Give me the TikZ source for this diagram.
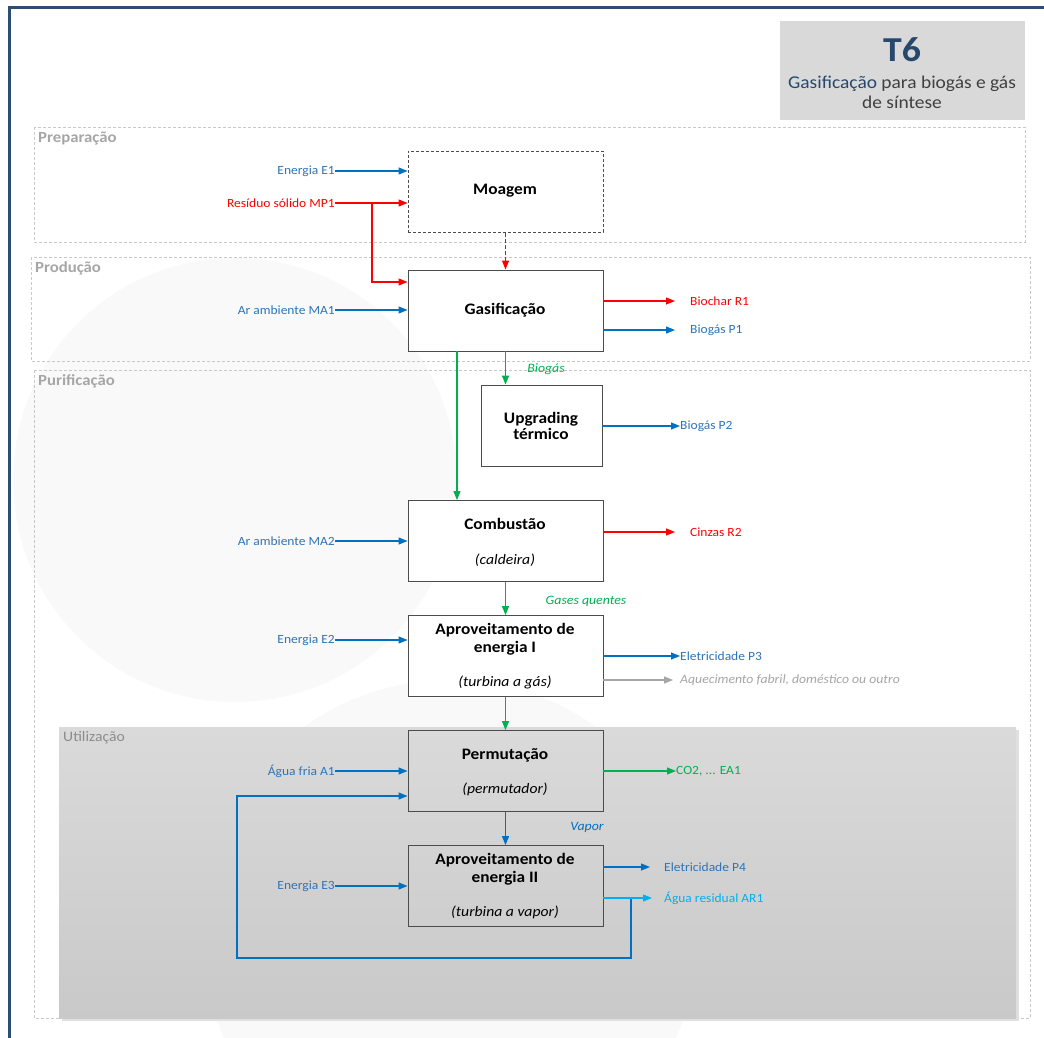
\documentclass[tikz,border=0pt]{standalone}
\usepackage{fontspec}
\setmainfont[FakeStretch=1.08]{Carlito}
\usetikzlibrary{arrows.meta}
\definecolor{frameblue}{RGB}{44,78,112}
\definecolor{tblue}{RGB}{38,72,108}
\definecolor{ablue}{RGB}{0,112,192}
\definecolor{lblue}{RGB}{46,117,182}
\definecolor{cred}{RGB}{255,0,0}
\definecolor{cgreen}{RGB}{0,176,80}
\definecolor{cgray}{RGB}{166,166,166}
\definecolor{cyanb}{RGB}{0,176,240}
\definecolor{secgray}{RGB}{200,200,200}
\definecolor{titlegray}{RGB}{217,217,217}
\definecolor{txtgray}{RGB}{64,64,64}
\begin{document}
\begin{tikzpicture}[x=1pt,y=-1pt,
 procbox/.style={draw=black!70, line width=0.9pt, fill=white, minimum width=195pt, minimum height=81pt, inner sep=0pt},
 sect/.style={draw=secgray, dash pattern=on 3pt off 2pt, line width=0.8pt},
 seclabel/.style={font=\bfseries\fontsize{15.5}{17}\selectfont, text=cgray, anchor=west, inner sep=0pt},
 lab/.style={font=\fontsize{12.5}{14}\selectfont, inner sep=0pt},
 inlab/.style={lab, anchor=east},
 outlab/.style={lab, anchor=west},
 ttl/.style={font=\bfseries\fontsize{16}{18}\selectfont, align=center, inner sep=0pt},
 subt/.style={font=\itshape\fontsize{14.5}{16}\selectfont, inner sep=0pt},
 flowlab/.style={font=\itshape\fontsize{12.8}{14}\selectfont, inner sep=0pt},
 flow/.style={line width=1.1pt, -{Triangle[length=9pt,width=7pt]}},
]
\useasboundingbox (0,0) rectangle (1044,1038);
\fill[white] (0,0) rectangle (1044,1038);
% watermark circles
\fill[black!2.5] (235,480) circle (222);
\fill[black!2.5] (450,930) circle (250);
\fill[white] (20,20) rectangle (760,125);
% frame
\draw[frameblue, line width=3pt] (9.5,1038) -- (9.5,7.5) -- (1044,7.5);
% title
\node[fill=titlegray, minimum width=245pt, minimum height=99pt, inner sep=0pt] (tbox) at (902.5,70.5) {};
\node[font=\bfseries\fontsize{35}{36}\selectfont, text=tblue, inner sep=0pt] (tnum) at (902,50) {T6};
\node[font=\fontsize{18}{20}\selectfont, align=center, text=txtgray, inner sep=0pt] (tsub) at (902,92) {\textcolor{tblue}{Gasificação} para biogás e gás\\de síntese};
% sections
\draw[sect] (34,127) rectangle (1025,242);
\draw[sect] (31,257) rectangle (1030,361);
\draw[sect] (34,370) rectangle (1030,1018);
\node[seclabel] (sprep) at (38,139) {Preparação};
\node[seclabel] (sprod) at (35,268) {Produção};
\node[seclabel] (spur) at (38,381) {Purificação};
% utilization
\fill[black!12] (62,730) rectangle (1019,1021);
\shade[top color={rgb,255:red,218;green,218;blue,218}, bottom color={rgb,255:red,201;green,201;blue,201}] (59,727) rectangle (1016,1018);
\node[font=\fontsize{14.5}{16}\selectfont, text=black!45, anchor=west, inner sep=0pt] (sutil) at (63,738) {Utilização};
% boxes
\node[procbox, dash pattern=on 3pt off 2pt] (moagem) at (505.5,191.5) {};
\node[procbox] (gasif) at (505.5,310.5) {};
\node[procbox, minimum width=121pt] (upg) at (541.5,425.5) {};
\node[procbox] (comb) at (505.5,541) {};
\node[procbox] (ap1) at (505.5,656) {};
\node[procbox, fill=none] (perm) at (505.5,771) {};
\node[procbox, fill=none] (ap2) at (505.5,886) {};
% box texts
\node[ttl] (tmoag) at (505,191) {Moagem};
\node[ttl] (tgas) at (505,310) {Gasificação};
\node[ttl, font=\bfseries\fontsize{16}{16}\selectfont] (tupg) at (541,426) {Upgrading\\térmico};
\node[ttl] (tcomb) at (505,524) {Combustão};
\node[subt] (scomb) at (505,560) {(caldeira)};
\node[ttl] (tap1) at (505,639) {Aproveitamento de\\energia I};
\node[subt] (sap1) at (505,682) {(turbina a gás)};
\node[ttl] (tperm) at (505,755) {Permutação};
\node[subt] (sperm) at (505,789) {(permutador)};
\node[ttl] (tap2) at (505,869) {Aproveitamento de\\energia II};
\node[subt] (sap2) at (505,912) {(turbina a vapor)};
% inputs
\node[inlab, text=lblue] (e1) at (335,171) {Energia E1};
\draw[flow, ablue] (e1.east) -- (e1.east -| moagem.west);
\node[inlab, text=cred] (mp1) at (335,203) {Resíduo sólido MP1};
\draw[flow, cred] (mp1.east) -- (mp1.east -| moagem.west);
\coordinate (mpb) at (372,203);
\draw[flow, cred] (mpb) |- ([yshift=28.5pt]gasif.west);
\draw[cred, line width=1.8pt, dash pattern=on 4pt off 2pt] ([yshift=-1pt]moagem.south) -- ([yshift=8pt]gasif.north);
\draw[flow, cred] ([yshift=9pt]gasif.north) -- (gasif.north);
\node[inlab, text=lblue] (ma1) at (335,310) {Ar ambiente MA1};
\draw[flow, ablue] (ma1.east) -- (ma1.east -| gasif.west);
% gasification outputs
\node[outlab, text=cred] (r1) at (690,301) {Biochar R1};
\draw[flow, cred] (gasif.east |- r1.west) -- ([xshift=-15pt]r1.west);
\node[outlab, text=lblue] (p1) at (690,330) {Biogás P1};
\draw[flow, ablue] (gasif.east |- p1.west) -- ([xshift=-15pt]p1.west);
\draw[flow, cgreen] ([xshift=-48.5pt]gasif.south) -- ([xshift=-48.5pt]comb.north);
\draw[flow, cgreen] (gasif.south) -- (gasif.south |- upg.north);
\node[flowlab, text=cgreen] (lbiog) at (546,369) {Biogás};
\node[outlab, text=lblue] (p2) at (680,426) {Biogás P2};
\draw[flow, ablue] (upg.east |- p2.west) -- (p2.west);
% combustion
\node[inlab, text=lblue] (ma2) at (335,541) {Ar ambiente MA2};
\draw[flow, ablue] (ma2.east) -- (ma2.east -| comb.west);
\node[outlab, text=cred] (r2) at (690,532) {Cinzas R2};
\draw[flow, cred] (comb.east |- r2.west) -- ([xshift=-15pt]r2.west);
\draw[flow, cgreen] (comb.south) -- (ap1.north);
\node[flowlab, text=cgreen] (lgas) at (586,601) {Gases quentes};
% energy I
\node[inlab, text=lblue] (e2) at (335,640) {Energia E2};
\draw[flow, ablue] (e2.east) -- (e2.east -| ap1.west);
\node[outlab, text=lblue] (p3) at (680,656) {Eletricidade P3};
\draw[flow, ablue] (ap1.east |- p3.west) -- (p3.west);
\node[outlab, text=cgray, font=\itshape\fontsize{12.7}{14}\selectfont] (aq) at (680,680) {Aquecimento fabril, doméstico ou outro};
\draw[flow, cgray] (ap1.east |- aq.west) -- ([xshift=-7pt]aq.west);
\draw[flow, cgreen] (ap1.south) -- (perm.north);
% permutation
\node[inlab, text=lblue] (a1) at (335,771) {Água fria A1};
\draw[flow, ablue] (a1.east) -- (a1.east -| perm.west);
\node[outlab, text=cgreen] (ea1) at (676,771) {CO2, ... EA1};
\draw[flow, cgreen] (perm.east |- ea1.west) -- (ea1.west);
\draw[flow, ablue] (perm.south) -- (ap2.north);
\node[flowlab, text=ablue] (lvap) at (587,827) {Vapor};
% energy II
\node[inlab, text=lblue] (e3) at (335,886) {Energia E3};
\draw[flow, ablue] (e3.east) -- (e3.east -| ap2.west);
\node[outlab, text=lblue] (p4) at (664,867) {Eletricidade P4};
\draw[flow, ablue] (ap2.east |- p4.west) -- ([xshift=-14pt]p4.west);
\node[outlab, text=cyanb] (ar1) at (664,898) {Água residual AR1};
\coordinate (lpa) at (631,898);
\coordinate (lpb) at (237,958);
\draw[flow, ablue] (lpa) |- (lpb) |- ([yshift=-25pt]perm.west);
\draw[flow, cyanb] (ap2.east |- ar1.west) -- ([xshift=-12pt]ar1.west);
\end{tikzpicture}
\end{document}
